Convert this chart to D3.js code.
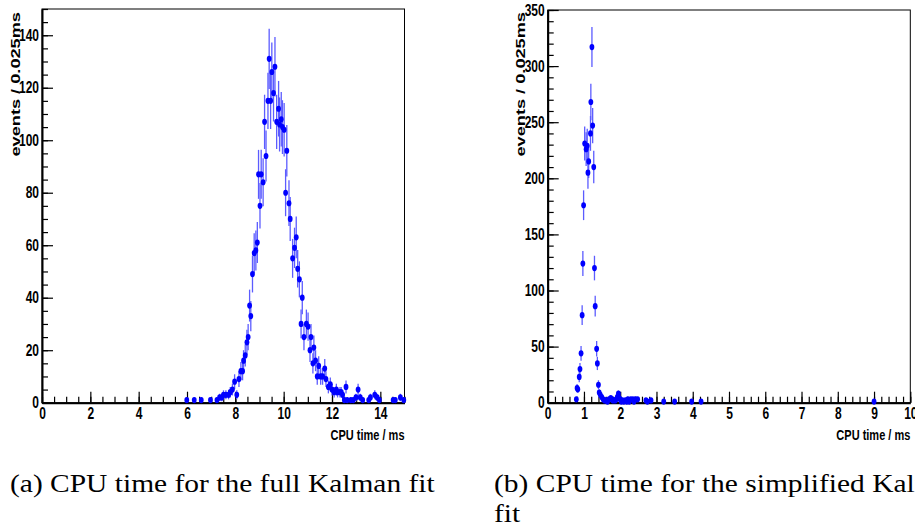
<!DOCTYPE html>
<html>
<head>
<meta charset="utf-8">
<style>
  body { margin: 0; background: #fff; }
  svg { display: block; }
  .tick text { font-family: "Liberation Sans", Arial, sans-serif; font-weight: bold; font-size: 12px; fill: #000; }
</style>
</head>
<body>
<div id="chart"></div>
<script src="https://d3js.org/d3.v7.min.js"></script>
<script>
// (a) full Kalman fit: bin centre (ms) and events per bin
var fullTime = [5.99, 6.30, 6.59, 6.97, 7.24, 7.35, 7.44, 7.51, 7.61, 7.72, 7.79, 7.88, 7.97, 8.06, 8.15,
  8.23, 8.30, 8.34, 8.41, 8.48, 8.53, 8.59, 8.64, 8.71, 8.78, 8.85, 8.91, 8.96, 9.02, 9.07, 9.15, 9.21,
  9.27, 9.35, 9.40, 9.46, 9.51, 9.58, 9.64, 9.71, 9.79, 9.83, 9.90, 9.95, 10.02, 10.08, 10.13, 10.22,
  10.27, 10.37, 10.45, 10.52, 10.58, 10.65, 10.72, 10.77, 10.84, 10.94, 11.01, 11.09, 11.13, 11.21,
  11.25, 11.32, 11.39, 11.45, 11.53, 11.61, 11.70, 11.75, 11.85, 11.93, 12.00, 12.09, 12.18, 12.23,
  12.33, 12.38, 12.44, 12.51, 12.58, 12.63, 12.78, 12.88, 12.99, 13.08, 13.17, 13.27, 13.52, 13.59,
  13.77, 13.87, 13.96, 14.53, 14.62, 14.83, 14.97];
var fullCount = [1, 1, 1, 1, 1, 2, 2, 3, 3, 3, 4, 5, 8, 3, 9,
  12, 12, 16, 18, 23, 25, 37, 33, 49, 57, 58, 61, 87, 75, 87, 84, 107,
  94, 115, 131, 115, 126, 118, 128, 107, 112, 106, 108, 105, 104, 80, 96, 76,
  70, 55, 59, 63, 51, 47, 30, 40, 25, 30, 29, 20, 25, 15,
  21, 16, 10, 14, 10, 10, 13, 9, 6, 7, 5, 4, 5, 4,
  4, 4, 3, 1, 6, 1, 1, 1, 2, 5, 2, 1, 1, 2,
  3, 2, 1, 1, 1, 2, 1];

// (b) simplified Kalman fit
var simpleTime = [0.79, 0.81, 0.83, 0.87, 0.89, 0.92, 0.95, 0.97, 0.99, 1.02, 1.06, 1.09, 1.11, 1.13,
  1.18, 1.19, 1.22, 1.24, 1.27, 1.29, 1.31, 1.35, 1.37, 1.40, 1.42, 1.45, 1.49, 1.53, 1.57, 1.61,
  1.65, 1.69, 1.74, 1.77, 1.80, 1.86, 1.89, 1.92, 1.95, 1.97, 2.00, 2.03, 2.06, 2.10, 2.14, 2.18,
  2.21, 2.25, 2.29, 2.35, 2.38, 2.42, 2.48, 2.71, 2.75, 2.85, 3.20, 3.50, 3.97, 4.23, 9.00];
var simpleCount = [3, 13, 12, 23, 30, 44, 78, 124, 176, 231, 226, 229, 205, 215,
  240, 268, 317, 247, 210, 120, 86, 48, 35, 16, 9, 7, 5, 3, 2, 2,
  1, 3, 4, 3, 2, 2, 3, 5, 8, 4, 3, 1, 2, 1, 2, 1,
  3, 1, 3, 3, 1, 3, 3, 2, 1, 2, 1, 1, 1, 1, 1];

var fullXTicks = d3.range(0, 15, 2);
var simpleXTicks = d3.range(0, 11, 1);
var fullYTicks = d3.range(0, 141, 20);
var simpleYTicks = d3.range(0, 351, 50);

var xTitle = "CPU time / ms";
var yTitle = "events / 0.025ms";
var captionA = "(a) CPU time for the full Kalman fit";
var captionB = ["(b) CPU time for the simplified Kalman", "fit"];

var width = 915, height = 527;
var svg = d3.select("#chart").append("svg")
  .attr("width", width)
  .attr("height", height);
svg.append("rect").attr("width", width).attr("height", height).attr("fill", "#fff");

var stretch = 1.3; // the figure is stretched vertically

function drawPanel(p) {
  var x = d3.scaleLinear().domain(p.xDomain).range(p.xRange);
  var y = d3.scaleLinear().domain(p.yDomain).range(p.yRange);
  var g = svg.append("g");

  g.append("rect")
    .attr("x", p.xRange[0]).attr("y", p.yRange[1])
    .attr("width", p.xRange[1] - p.xRange[0])
    .attr("height", p.yRange[0] - p.yRange[1])
    .attr("fill", "none").attr("stroke", "#000").attr("stroke-width", 1);

  // minor ticks
  var xm = g.append("g").attr("transform", "translate(0," + p.yRange[0] + ")")
    .call(d3.axisBottom(x).tickValues(p.xMinor).tickSize(-6).tickSizeOuter(0).tickFormat(""));
  xm.select(".domain").remove();
  var ym = g.append("g").attr("transform", "translate(" + p.xRange[0] + ",0)")
    .call(d3.axisLeft(y).tickValues(p.yMinor).tickSize(-6).tickSizeOuter(0).tickFormat(""));
  ym.select(".domain").remove();

  // major ticks + labels
  var xa = g.append("g").attr("transform", "translate(0," + p.yRange[0] + ")")
    .call(d3.axisBottom(x).tickValues(p.xTicks).tickSize(-11).tickSizeOuter(0).tickPadding(4));
  var ya = g.append("g").attr("transform", "translate(" + p.xRange[0] + ",0)")
    .call(d3.axisLeft(y).tickValues(p.yTicks).tickSize(-11).tickSizeOuter(0).tickPadding(3));
  [xa, ya, xm, ym].forEach(function(a) {
    a.selectAll(".tick line").attr("stroke", "#000").attr("stroke-width", 1.2);
    a.selectAll(".tick text").attr("transform", "scale(1," + stretch + ")");
    a.select(".domain").attr("stroke", "#000").attr("stroke-width", 2);
  });

  // titles
  g.append("text")
    .attr("transform", "translate(" + p.xRange[1] + ",439.5) scale(1,1.4)")
    .attr("text-anchor", "end")
    .attr("font-family", "Liberation Sans, Arial, sans-serif")
    .attr("font-weight", "bold").attr("font-size", "11px")
    .text(xTitle);
  g.append("text")
    .attr("transform", "translate(" + p.yTitleX + ",12) scale(1,1.4) rotate(-90)")
    .attr("text-anchor", "end")
    .attr("font-family", "Liberation Sans, Arial, sans-serif")
    .attr("font-weight", "bold").attr("font-size", "13px")
    .text(yTitle);

  var pts = d3.zip(p.time, p.count);
  g.selectAll(".err").data(pts).enter().append("line")
    .attr("x1", function(d) { return x(d[0]); })
    .attr("x2", function(d) { return x(d[0]); })
    .attr("y1", function(d) { return y(d[1] - Math.sqrt(d[1])); })
    .attr("y2", function(d) { return y(d[1] + Math.sqrt(d[1])); })
    .attr("stroke", "#5c5cff").attr("stroke-width", 1.3);
  g.selectAll(".pt").data(pts).enter().append("ellipse")
    .attr("cx", function(d) { return x(d[0]); })
    .attr("cy", function(d) { return y(d[1]); })
    .attr("rx", 2.4).attr("ry", 3.1)
    .attr("fill", "#0000ff");
}

drawPanel({
  xDomain: [0, 15], xRange: [42, 404.5],
  yDomain: [0, 150], yRange: [402.7, 9],
  xTicks: fullXTicks, xMinor: d3.range(0, 15.01, 0.5),
  yTicks: fullYTicks, yMinor: d3.range(0, 150.1, 5),
  yTitleX: 19.5,
  time: fullTime, count: fullCount
});
drawPanel({
  xDomain: [0, 10], xRange: [547.7, 910.3],
  yDomain: [0, 350], yRange: [402.7, 10],
  xTicks: simpleXTicks, xMinor: d3.range(0, 10.01, 0.2),
  yTicks: simpleYTicks, yMinor: d3.range(0, 350.1, 10),
  yTitleX: 525,
  time: simpleTime, count: simpleCount
});

// captions
function caption(str, x0, yb) {
  return svg.append("text")
    .attr("font-family", "Liberation Serif, Times New Roman, serif")
    .attr("font-size", "26px")
    .attr("fill", "#000")
    .text(str)
    .attr("data-x", x0).attr("data-y", yb);
}
var capA = caption(captionA, 10, 492);
var sx = 425 / capA.node().getComputedTextLength();
var caps = [capA, caption(captionB[0], 494, 492), caption(captionB[1], 494, 522)];
caps.forEach(function(c) {
  c.attr("transform", "translate(" + c.attr("data-x") + "," + c.attr("data-y") + ") scale(" + sx + ",1)");
});
</script>
</body>
</html>
